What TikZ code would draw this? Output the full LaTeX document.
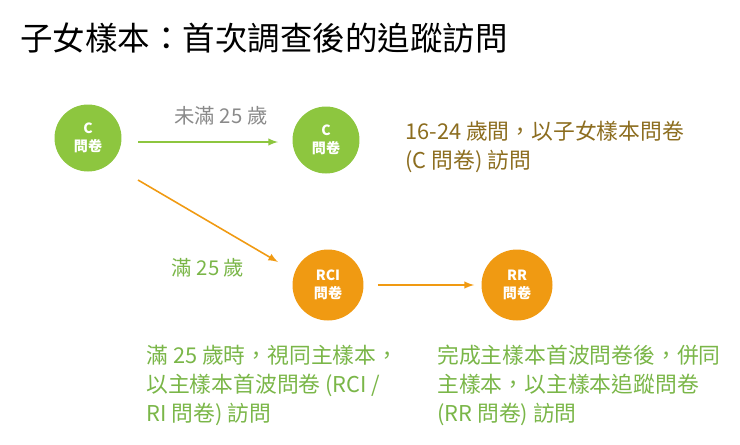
\documentclass[tikz,border=0pt]{standalone}
\usepackage{fontspec}
\setmainfont{Noto Sans CJK TC}
\definecolor{qgreen}{HTML}{8DC63F}
\definecolor{qorange}{HTML}{F09A12}
\definecolor{qtext}{HTML}{7AB648}
\definecolor{qbrown}{HTML}{8C6D1F}
\definecolor{qgray}{HTML}{8A8A8A}
\tikzset{
  wave/.style={circle, minimum size=1.34cm, inner sep=0pt, text=white,
    font=\fontsize{8}{10}\selectfont\bfseries, align=center},
  note/.style={anchor=north west, align=left, inner sep=0pt,
    font=\fontsize{12.4}{16.4}\selectfont},
  flow/.style={-latex, line width=0.9pt}
}
\begin{document}
\begin{tikzpicture}[x=0.02cm,y=-0.02cm]
\useasboundingbox (0,0) rectangle (740,444);
\node[anchor=west, inner sep=0pt, font=\fontsize{18.5}{22}\selectfont] (title) at (20,38) {子女樣本：首次調查後的追蹤訪問};
% circles
\node[wave, fill=qgreen] (c1) at (88,138) {C\\問卷};
\node[wave, fill=qgreen] (c2) at (326,140) {C\\問卷};
\node[wave, fill=qorange, minimum size=1.42cm] (rci) at (328,285) {RCI\\問卷};
\node[wave, fill=qorange, minimum size=1.42cm] (rr) at (517,285) {RR\\問卷};
% connectors
\coordinate (c1e) at (138,142);
\coordinate (c2w) at (278,142);
\coordinate (c1s) at (138,180);
\coordinate (rcin) at (278,262);
\draw[flow, qgreen] (c1e) -- (c2w);
\draw[flow, qorange] (c1s) -- (rcin);
\draw[flow, qorange] ([xshift=8]rci.east) -- ([xshift=-4]rr.west);
% labels
\node[font=\fontsize{11.6}{14}\selectfont, text=qgray] (young) at (221,116) {未滿 25 歲};
\node[font=\fontsize{11.6}{14}\selectfont, text=qtext] (old) at (208,268) {滿 25 歲};
\node[note, text=qbrown] (cnote) at (405,121) {16-24 歲間，以子女樣本問卷\\(C 問卷) 訪問};
\node[note, text=qtext] (rcinote) at (146,345) {滿 25 歲時，視同主樣本，\\以主樣本首波問卷 (RCI /\\RI 問卷) 訪問};
\node[note, text=qtext] (rrnote) at (437,345) {完成主樣本首波問卷後，併同\\主樣本，以主樣本追蹤問卷\\(RR 問卷) 訪問};
\end{tikzpicture}
\end{document}
